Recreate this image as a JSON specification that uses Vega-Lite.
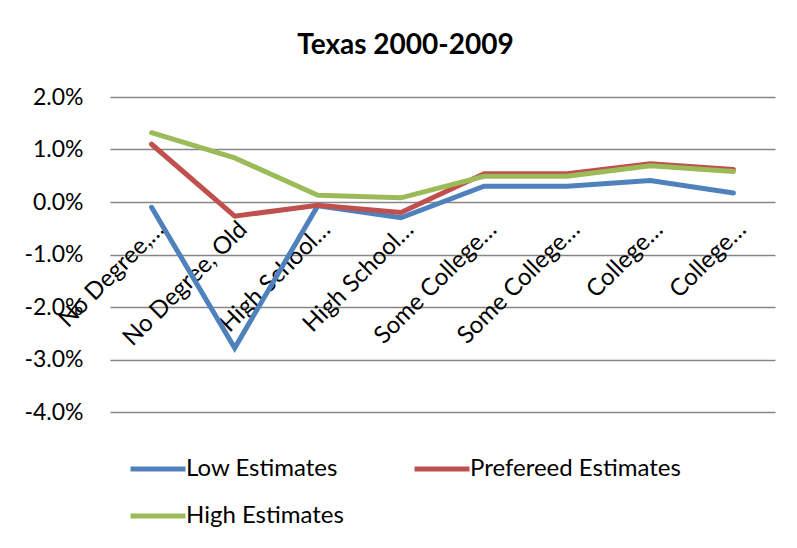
{
  "$schema": "https://vega.github.io/schema/vega-lite/v6.json",
  "width": 665,
  "height": 315,
  "autosize": {"type": "none"},
  "padding": {"left": 110, "top": 97, "right": 22, "bottom": 136},
  "background": "white",
  "title": {
    "text": "Texas 2000-2009",
    "font": "Lato",
    "fontSize": 28,
    "fontWeight": "bold",
    "color": "#000000",
    "anchor": "middle",
    "dx": -37,
    "offset": 26
  },
  "data": {
    "values": [
      {"pos": 1, "category": "No Degree,…", "series": "Low Estimates", "value": -0.001},
      {"pos": 2, "category": "No Degree, Old", "series": "Low Estimates", "value": -0.0278},
      {"pos": 3, "category": "High School…", "series": "Low Estimates", "value": -0.0007},
      {"pos": 4, "category": "High School…", "series": "Low Estimates", "value": -0.003},
      {"pos": 5, "category": "Some College…", "series": "Low Estimates", "value": 0.003},
      {"pos": 6, "category": "Some College…", "series": "Low Estimates", "value": 0.003},
      {"pos": 7, "category": "College…", "series": "Low Estimates", "value": 0.0041},
      {"pos": 8, "category": "College…", "series": "Low Estimates", "value": 0.0017},
      {"pos": 1, "category": "No Degree,…", "series": "Prefereed Estimates", "value": 0.011},
      {"pos": 2, "category": "No Degree, Old", "series": "Prefereed Estimates", "value": -0.0027},
      {"pos": 3, "category": "High School…", "series": "Prefereed Estimates", "value": -0.0006},
      {"pos": 4, "category": "High School…", "series": "Prefereed Estimates", "value": -0.002},
      {"pos": 5, "category": "Some College…", "series": "Prefereed Estimates", "value": 0.0054},
      {"pos": 6, "category": "Some College…", "series": "Prefereed Estimates", "value": 0.0054},
      {"pos": 7, "category": "College…", "series": "Prefereed Estimates", "value": 0.0073},
      {"pos": 8, "category": "College…", "series": "Prefereed Estimates", "value": 0.0062},
      {"pos": 1, "category": "No Degree,…", "series": "High Estimates", "value": 0.0132},
      {"pos": 2, "category": "No Degree, Old", "series": "High Estimates", "value": 0.0084},
      {"pos": 3, "category": "High School…", "series": "High Estimates", "value": 0.0013},
      {"pos": 4, "category": "High School…", "series": "High Estimates", "value": 0.0008},
      {"pos": 5, "category": "Some College…", "series": "High Estimates", "value": 0.0049},
      {"pos": 6, "category": "Some College…", "series": "High Estimates", "value": 0.0049},
      {"pos": 7, "category": "College…", "series": "High Estimates", "value": 0.0069},
      {"pos": 8, "category": "College…", "series": "High Estimates", "value": 0.0058}
    ]
  },
  "mark": {"type": "line", "strokeWidth": 5, "strokeCap": "round"},
  "encoding": {
    "x": {
      "field": "pos",
      "type": "ordinal",
      "axis": {
        "title": null,
        "labelAngle": -45,
        "labelExpr": "['No Degree,…','No Degree, Old','High School…','High School…','Some College…','Some College…','College…','College…'][datum.value-1]",
        "offset": -210,
        "domain": false,
        "ticks": false,
        "grid": false,
        "labelFont": "Lato",
        "labelFontSize": 24,
        "labelColor": "#000000",
        "labelPadding": 15,
        "labelLimit": 300
      }
    },
    "y": {
      "field": "value",
      "type": "quantitative",
      "scale": {"domain": [-0.04, 0.02], "nice": false},
      "axis": {
        "title": null,
        "labelExpr": "replace(format(datum.value, '.1%'), '−', '-')",
        "values": [-0.04, -0.03, -0.02, -0.01, 0, 0.01, 0.02],
        "domain": false,
        "ticks": false,
        "grid": true,
        "gridColor": "#868686",
        "gridWidth": 1.5,
        "gridOpacity": 1,
        "labelFont": "Lato",
        "labelFontSize": 23,
        "labelColor": "#000000",
        "labelPadding": 27
      }
    },
    "color": {
      "field": "series",
      "type": "nominal",
      "sort": ["Low Estimates", "Prefereed Estimates", "High Estimates"],
      "scale": {
        "domain": ["Low Estimates", "Prefereed Estimates", "High Estimates"],
        "range": ["#4F81BD", "#C0504D", "#9BBB59"]
      },
      "legend": {
        "title": null,
        "orient": "none",
        "legendX": 18,
        "legendY": 342,
        "direction": "horizontal",
        "columns": 2,
        "symbolType": "stroke",
        "symbolSize": 3025,
        "symbolStrokeWidth": 5,
        "labelFont": "Lato",
        "labelFontSize": 24,
        "labelColor": "#000000",
        "labelOffset": -2,
        "columnPadding": 60,
        "rowPadding": 5,
        "labelLimit": 400
      }
    }
  },
  "config": {
    "view": {"stroke": null}
  }
}
